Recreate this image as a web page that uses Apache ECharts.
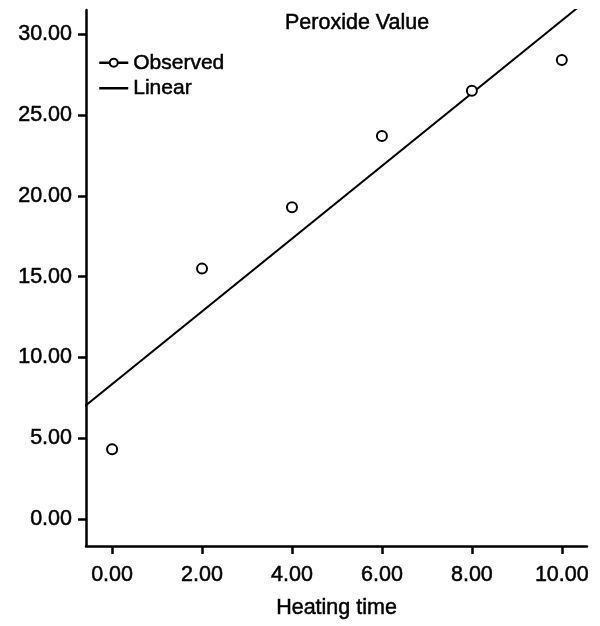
<!DOCTYPE html>
<html>
<head>
<meta charset="utf-8">
<script src="https://cdn.jsdelivr.net/npm/echarts@6/dist/echarts.min.js"></script>
<style>
  html, body { margin: 0; padding: 0; background: #fff; }
  #chart { width: 600px; height: 626px; }
</style>
</head>
<body>
<div id="chart"></div>
<script>
// heating time and observed peroxide value
const heatingTime = [0, 2, 4, 6, 8, 10]
const observed = [4.33, 15.5, 19.3, 23.7, 26.5, 28.4]
// fitted line, end points (clipped by the grid)
const linearX = [-0.6, 10.6]
const linearY = [7.0, 32.2]
const xTicks = [0, 2, 4, 6, 8, 10]
const yTicks = [0, 5, 10, 15, 20, 25, 30]

const font = 'Liberation Sans, Arial, Helvetica, sans-serif'
const black = '#000'
// slightly heavier text, like the reference
const txt = size => ({
  fontFamily: font, fontSize: size, fontWeight: 'normal', color: black,
  textBorderColor: black, textBorderWidth: 0.5
})

let myChart = echarts.init(document.getElementById('chart'))
myChart.setOption({
  animation: false,
  title: {
    text: 'Peroxide Value',
    left: 285,
    top: 12,
    padding: 0,
    textStyle: txt(21.5)
  },
  legend: {
    orient: 'vertical',
    left: 98,
    top: 52,
    padding: 0,
    itemWidth: 29,
    itemHeight: 10,
    itemGap: 4,
    textStyle: txt(21),
    data: [
      { name: 'Observed', lineStyle: { width: 2.5, opacity: 1, color: black } },
      { name: 'Linear', itemStyle: { opacity: 0 }, lineStyle: { width: 2.5 } }
    ]
  },
  grid: { left: 86, right: 13, top: 10, bottom: 80 },
  xAxis: {
    type: 'value',
    min: -0.58,
    max: 10.56,
    name: 'Heating time',
    nameLocation: 'middle',
    nameGap: 51,
    nameTextStyle: txt(21.5),
    axisLine: { show: true, onZero: false, lineStyle: { color: black, width: 2.5 } },
    axisTick: { show: true, length: 8, lineStyle: { color: black, width: 2.5 }, customValues: xTicks },
    axisLabel: Object.assign(txt(21.5), {
      margin: 18,
      customValues: xTicks,
      formatter: v => v.toFixed(2)
    }),
    splitLine: { show: false }
  },
  yAxis: {
    type: 'value',
    min: -1.66,
    max: 31.5,
    axisLine: { show: true, onZero: false, lineStyle: { color: black, width: 2.5 } },
    axisTick: { show: true, length: 8, lineStyle: { color: black, width: 2.5 }, customValues: yTicks },
    axisLabel: Object.assign(txt(21.5), {
      margin: 14,
      customValues: yTicks,
      formatter: v => v.toFixed(2)
    }),
    splitLine: { show: false }
  },
  series: [
    {
      name: 'Observed',
      type: 'line',
      data: heatingTime.map((x, i) => [x, observed[i]]),
      symbol: 'emptyCircle',
      symbolSize: 10,
      showAllSymbol: true,
      itemStyle: { color: black, borderWidth: 2 },
      lineStyle: { width: 0, opacity: 0, color: black },
      z: 3
    },
    {
      name: 'Linear',
      type: 'line',
      data: linearX.map((x, i) => [x, linearY[i]]),
      symbol: 'none',
      clip: true,
      lineStyle: { width: 2, color: black },
      itemStyle: { color: black },
      z: 2
    }
  ]
})
</script>
</body>
</html>
